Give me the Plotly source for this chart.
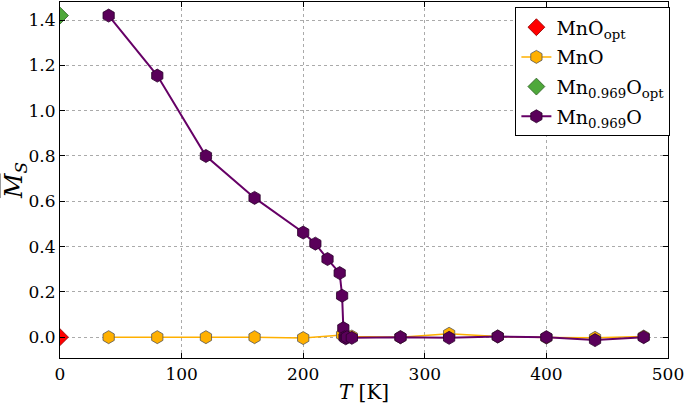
import plotly.graph_objects as go

T_mno = [40, 80, 120, 160, 200, 232, 236, 240, 280, 320, 360, 400, 440, 480]
M_mno = [0.0, 0.0, 0.0, 0.0, -0.004, 0.01, 0.005, 0.003, 0.0, 0.015, 0.003, -0.002, -0.003, 0.003]

T_mn969 = [40, 80, 120, 160, 200, 210, 220, 230, 232, 233, 234, 235, 236, 240, 280, 320, 360, 400, 440, 480]
M_mn969 = [1.42, 1.155, 0.80, 0.615, 0.462, 0.413, 0.345, 0.283, 0.183, 0.04, 0.0, -0.005, 0.0, -0.003, 0.0, -0.003, 0.003, 0.0, -0.013, 0.0]

T_opt = [0]
M_mno_opt = [0.0]
M_mn969_opt = [1.42]

xticks = [0, 100, 200, 300, 400, 500]
yticks = [0.0, 0.2, 0.4, 0.6, 0.8, 1.0, 1.2, 1.4]
ytick_text = ["0.0", "0.2", "0.4", "0.6", "0.8", "1.0", "1.2", "1.4"]

FONT = "DejaVu Serif, serif"

fig = go.Figure()
fig.add_trace(go.Scatter(x=T_opt, y=M_mno_opt, mode="markers", name="MnO<sub>opt</sub>", legendgroup="a",
                         marker=dict(symbol="diamond", size=13, color="#ff0000",
                                     line=dict(color="#8b0000", width=0.8))))
fig.add_trace(go.Scatter(x=T_mno, y=M_mno, mode="lines+markers", name="MnO", legendgroup="b",
                         line=dict(color="#ffb000", width=1.5),
                         marker=dict(symbol="hexagon", size=13, color="#ffb000",
                                     line=dict(color="#555555", width=0.8))))
fig.add_trace(go.Scatter(x=T_opt, y=M_mn969_opt, mode="markers", name="Mn<sub>0.969</sub>O<sub>opt</sub>", legendgroup="c",
                         marker=dict(symbol="diamond", size=13, color="#4ea83a",
                                     line=dict(color="#2a5a20", width=0.8))))
fig.add_trace(go.Scatter(x=T_mn969, y=M_mn969, mode="lines+markers", name="Mn<sub>0.969</sub>O", legendgroup="d",
                         line=dict(color="#660066", width=2),
                         marker=dict(symbol="hexagon", size=13, color="#5a005a",
                                     line=dict(color="#2a002a", width=0.8))))

axis_common = dict(showline=True, linecolor="black", linewidth=1.2, mirror="ticks",
                   ticks="inside", ticklen=5, tickcolor="black",
                   showgrid=True, gridcolor="#aaaaaa", griddash="dot", gridwidth=1,
                   zeroline=False, tickfont=dict(family=FONT, size=17, color="black"))

fig.update_xaxes(range=[0, 500], tickvals=xticks, ticklabeloverflow="allow",
                 title=dict(text="<i>T</i> [K]", font=dict(family=FONT, size=20, color="black"), standoff=2),
                 **axis_common)
fig.update_yaxes(range=[-0.092, 1.48], tickvals=yticks, ticktext=ytick_text,
                 title=dict(text="<span style=\"text-decoration:overline\"><i>M</i></span><sub><i>S</i></sub>",
                            font=dict(family=FONT, size=24, color="black"), standoff=6),
                 **axis_common)

fig.update_layout(width=685, height=408, margin=dict(l=60, r=15, t=1, b=50),
                  plot_bgcolor="white", paper_bgcolor="white",
                  font=dict(family=FONT, color="black"),
                  legend=dict(x=0.749, y=0.985, xanchor="left", yanchor="top",
                              bordercolor="black", borderwidth=1, bgcolor="white",
                              font=dict(family=FONT, size=19, color="black"),
                              itemwidth=30, tracegroupgap=2))

fig.write_html("out.html", config={"displayModeBar": False},
               post_script="document.body.style.margin='0';")
